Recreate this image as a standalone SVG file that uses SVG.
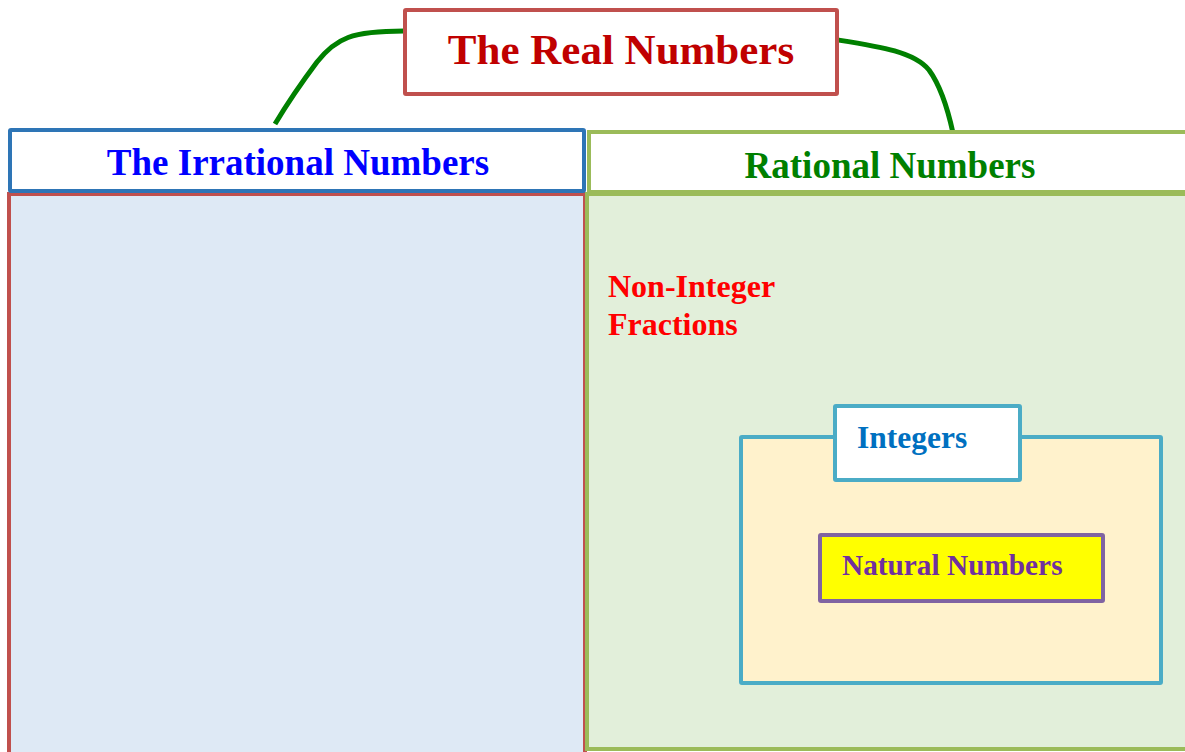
<svg xmlns="http://www.w3.org/2000/svg" width="1185" height="752" viewBox="0 0 1185 752">
<style>
text{font-family:"Liberation Serif","Times New Roman",serif;font-weight:bold}
.conn{fill:none;stroke:#008000;stroke-width:5;stroke-linecap:butt}
</style>
<rect width="1185" height="752" fill="#ffffff"/>
<g id="irrational-body"><rect x="9" y="194" width="576" height="600" fill="#dee9f5" stroke="#c0504d" stroke-width="4"/></g>
<g id="rational-body"><rect x="587" y="194" width="640" height="555" fill="#e2efda" stroke="#9bbb59" stroke-width="4"/></g>
<g id="connectors">
<path class="conn" d="M404,31 C352,31 336,38 317,62 C302,82 287,104 275,124"/>
<path class="conn" d="M838,40 C882,47 914,52 929,70 C940,85 948,110 953,133"/>
</g>
<g id="real"><rect x="405" y="10" width="432" height="84" fill="#ffffff" stroke="#c0504d" stroke-width="4" rx="1"/>
<text x="621" y="64" font-size="43" fill="#c00000" text-anchor="middle">The Real Numbers</text></g>
<g id="irrational"><rect x="10" y="130" width="574" height="61" fill="#ffffff" stroke="#2e75b6" stroke-width="4" rx="1"/>
<text x="298" y="175" font-size="37" fill="#0000ff" text-anchor="middle">The Irrational Numbers</text></g>
<g id="rational"><rect x="589" y="132" width="640" height="60" fill="#ffffff" stroke="#9bbb59" stroke-width="4"/>
<text x="890" y="178" font-size="37" fill="#008000" text-anchor="middle">Rational Numbers</text></g>
<g id="fractions"><text x="608" y="297" font-size="32" fill="#ff0000">Non-Integer</text>
<text x="608" y="335" font-size="32" fill="#ff0000">Fractions</text></g>
<g id="integers"><rect x="741" y="437" width="420" height="246" fill="#fff2cc" stroke="#4bacc6" stroke-width="4" rx="1"/>
<rect x="835" y="406" width="185" height="74" fill="#ffffff" stroke="#4bacc6" stroke-width="4" rx="1"/>
<text x="857" y="448" font-size="31.5" fill="#0070c0">Integers</text></g>
<g id="natural"><rect x="820" y="535" width="283" height="66" fill="#ffff00" stroke="#8064a2" stroke-width="4" rx="1"/>
<text x="842" y="575" font-size="29.3" fill="#7030a0">Natural Numbers</text></g>
</svg>
